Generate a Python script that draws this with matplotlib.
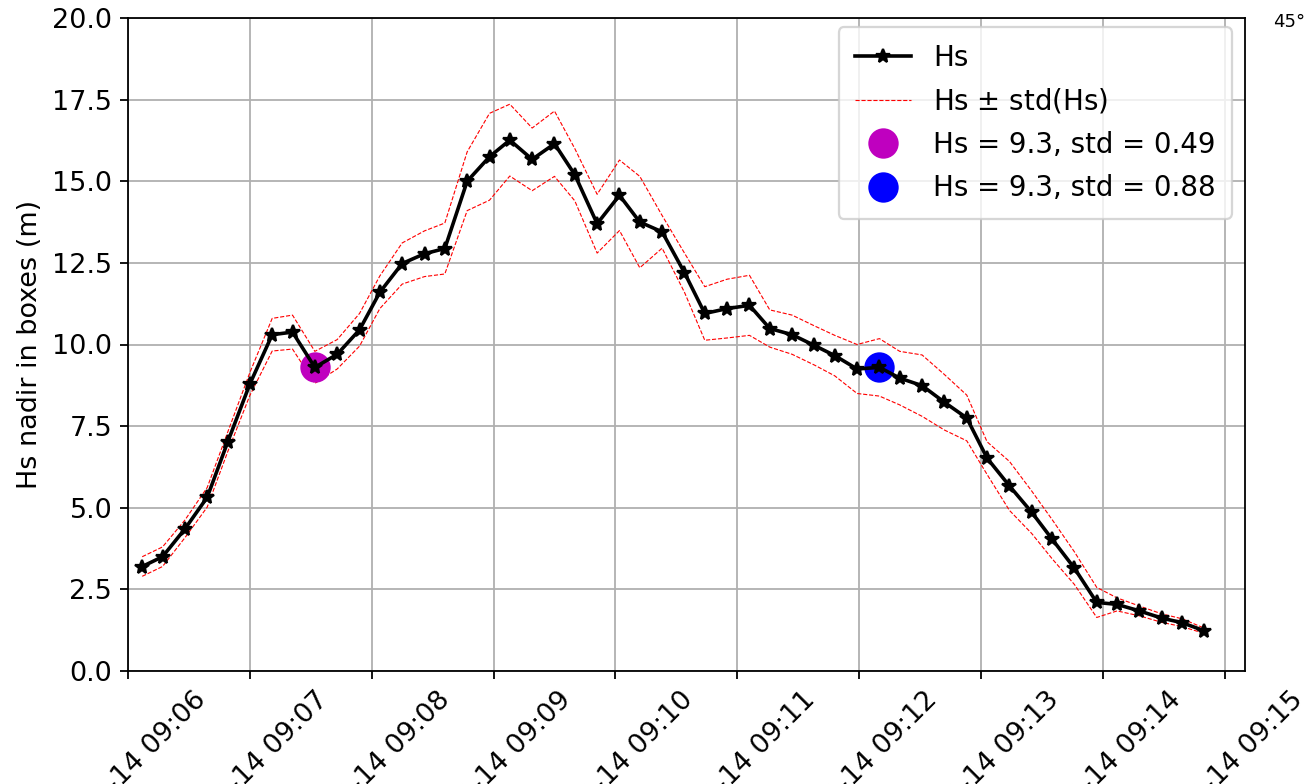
import matplotlib
matplotlib.use("Agg")
import matplotlib.pyplot as plt
import matplotlib.dates as mdates
import numpy as np
import pandas as pd

date = "2019-01-14"
times = ["09:06:07", "09:06:17", "09:06:28", "09:06:39", "09:06:49",
         "09:07:00", "09:07:11", "09:07:21", "09:07:32", "09:07:43",
         "09:07:54", "09:08:04", "09:08:15", "09:08:26", "09:08:36",
         "09:08:47", "09:08:58", "09:09:08", "09:09:19", "09:09:30",
         "09:09:40", "09:09:51", "09:10:02", "09:10:12", "09:10:23",
         "09:10:34", "09:10:44", "09:10:55", "09:11:06", "09:11:16",
         "09:11:27", "09:11:38", "09:11:48", "09:11:59", "09:12:10",
         "09:12:20", "09:12:31", "09:12:42", "09:12:53", "09:13:03",
         "09:13:14", "09:13:25", "09:13:35", "09:13:46", "09:13:57",
         "09:14:07", "09:14:18", "09:14:29", "09:14:39", "09:14:50"]
hs = [3.2, 3.5, 4.35, 5.32, 7.0, 8.79, 10.3, 10.38, 9.3, 9.7,
      10.45, 11.6, 12.48, 12.78, 12.94, 15.0, 15.75, 16.26, 15.67, 16.15,
      15.2, 13.7, 14.57, 13.75, 13.45, 12.2, 10.95, 11.1, 11.2, 10.49,
      10.3, 9.97, 9.66, 9.25, 9.3, 8.97, 8.74, 8.23, 7.75, 6.52,
      5.67, 4.86, 4.04, 3.15, 2.1, 2.04, 1.84, 1.62, 1.48, 1.23]
hs_std = [0.3, 0.3, 0.27, 0.3, 0.3, 0.35, 0.5, 0.52, 0.49, 0.45,
          0.5, 0.5, 0.63, 0.7, 0.78, 0.9, 1.33, 1.1, 0.96, 1.0,
          0.8, 0.9, 1.08, 1.4, 0.5, 0.6, 0.82, 0.9, 0.92, 0.57,
          0.6, 0.6, 0.62, 0.75, 0.88, 0.82, 0.94, 0.85, 0.7, 0.5,
          0.75, 0.65, 0.6, 0.5, 0.46, 0.2, 0.15, 0.13, 0.12, 0.08]
highlight_idx = [8, 34]
highlight_colors = ["m", "b"]
xlim_times = ["09:06:00", "09:15:10"]

plt.rcParams["font.size"] = 12

t = pd.to_datetime([f"{date} {s}" for s in times]).to_pydatetime()
hs_a = np.array(hs)
sd_a = np.array(hs_std)

DPI = 162
W, H = 1304, 784
fig = plt.figure(figsize=(W / DPI, H / DPI), dpi=DPI)
ax = fig.add_axes([128 / W, 1 - 671 / H, (1245 - 128) / W, (671 - 18) / H])

lo_h, = ax.plot(t, hs_a + sd_a, color="red", ls="--", lw=0.5,
                label=r"Hs $\pm$ std(Hs)", zorder=2)
ax.plot(t, hs_a - sd_a, color="red", ls="--", lw=0.5, zorder=2)
dot_handles = []
for idx, c in zip(highlight_idx, highlight_colors):
    h, = ax.plot([t[idx]], [hs[idx]], "o", color=c, ms=12.5, zorder=3,
                 label=f"Hs = {hs[idx]:.1f}, std = {hs_std[idx]:.2f}")
    dot_handles.append(h)
hs_h, = ax.plot(t, hs_a, "k-*", lw=1.6, ms=6.5, label="Hs", zorder=4)

ax.set_ylim(0, 20)
ax.set_yticks(np.arange(0, 20.01, 2.5))
ax.yaxis.set_major_formatter(matplotlib.ticker.FormatStrFormatter("%.1f"))
xl = pd.to_datetime([f"{date} {s}" for s in xlim_times]).to_pydatetime()
ax.set_xlim(xl[0], xl[1])
ax.xaxis.set_major_locator(mdates.MinuteLocator())
ax.xaxis.set_major_formatter(mdates.DateFormatter("%y-%m-%d %H:%M"))
plt.setp(ax.get_xticklabels(), rotation=45)
ax.set_ylabel("Hs nadir in boxes (m)")
ax.grid(True)

ax.legend(handles=[hs_h, lo_h] + dot_handles, loc="upper right",
          bbox_to_anchor=((1232 - 128) / (1245 - 128), (671 - 27) / (671 - 18)),
          borderaxespad=0, labelspacing=0.55, borderpad=0.6, fontsize=12.3)
fig.text(1273 / W, 1 - 22 / H, "45°", fontsize=8, va="center", ha="left")

fig.savefig("out.png", dpi=DPI)
